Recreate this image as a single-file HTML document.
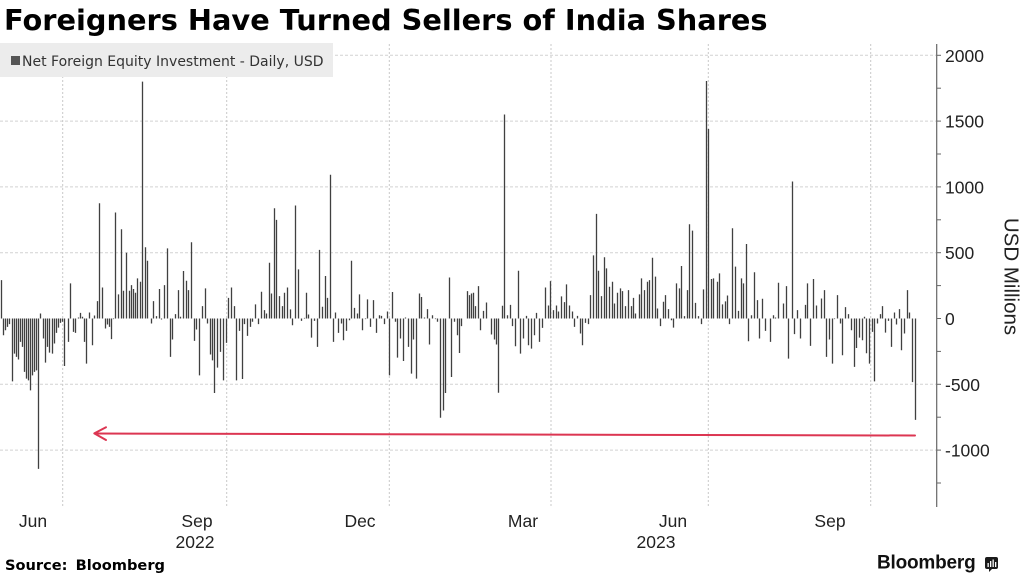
<!DOCTYPE html>
<html>
<head>
<meta charset="utf-8">
<style>
html,body{margin:0;padding:0;background:#fff;}
svg{display:block;}
</style>
</head>
<body>
<svg width="1024" height="576" viewBox="0 0 1024 576" xmlns="http://www.w3.org/2000/svg">
<rect x="0" y="0" width="1024" height="576" fill="#fff"/>

<!-- Title -->
<text x="4" y="30" font-family="'DejaVu Sans', 'Liberation Sans', sans-serif" font-weight="bold" font-size="28.8" fill="#000">Foreigners Have Turned Sellers of India Shares</text>

<!-- horizontal gridlines -->
<g stroke="#d2d2d2" stroke-width="1" stroke-dasharray="3,2">
  <line x1="0" x2="936" y1="55.3" y2="55.3"/>
  <line x1="0" x2="936" y1="121.1" y2="121.1"/>
  <line x1="0" x2="936" y1="186.9" y2="186.9"/>
  <line x1="0" x2="936" y1="252.7" y2="252.7"/>
  <line x1="0" x2="936" y1="384.3" y2="384.3"/>
  <line x1="0" x2="936" y1="450.1" y2="450.1"/>
</g>
<!-- vertical gridlines -->
<g stroke="#c8c8c8" stroke-width="1" stroke-dasharray="2,2">
  <line x1="62.7" x2="62.7" y1="44" y2="507"/>
  <line x1="226.7" x2="226.7" y1="44" y2="507"/>
  <line x1="389.3" x2="389.3" y1="44" y2="507"/>
  <line x1="551" x2="551" y1="44" y2="507"/>
  <line x1="708.3" x2="708.3" y1="44" y2="507"/>
  <line x1="870.7" x2="870.7" y1="44" y2="507"/>
</g>

<!-- Legend -->
<rect x="0" y="43" width="333" height="34" fill="#ececec"/>
<rect x="11" y="56" width="9" height="9" fill="#555"/>
<text x="22" y="66" font-family="'DejaVu Sans', 'Liberation Sans', sans-serif" font-size="14" fill="#333">Net Foreign Equity Investment - Daily, USD</text>

<!-- Bars -->
<path transform="translate(0.5,318.5) scale(1,-0.1316)" fill="none" stroke="#404040" stroke-width="1.3" d="
M1 0V292M3 0V-127M5 0V-89M7 0V-64M9 0V-43M12 0V-478M14 0V-267M16 0V-292M18 0V-312M20 0V-178M22 0V-216M24 0V-406M26 0V-457M28 0V-470M30 0V-546M32 0V-432M34 0V-406M36 0V-394M38 0V-1143M40 0V38M43 0V-152M45 0V-335M47 0V-216M49 0V-259M52 0V-267M54 0V-190M56 0V-109M58 0V-69M60 0V-33M62 0V-25M64 0V-361M68 0V-178M70 0V267M73 0V-102M75 0V-109M78 0V8M80 0V43M82 0V13M84 0V-178M86 0V-343M89 0V46M92 0V-203M94 0V23M97 0V132M99 0V876M102 0V236M105 0V-76M107 0V-46M109 0V-64M111 0V-157M113 0V-5M115 0V805M118 0V183M121 0V678M123 0V211M126 0V500M129 0V211M131 0V254M133 0V224M135 0V196M137 0V305M140 0V279M142 0V1800M145 0V541M147 0V439M151 0V-38M153 0V132M156 0V18M159 0V224
M161 0V-8M164 0V254M167 0V533M170 0V-292M172 0V-160M175 0V33M178 0V216M180 0V13M183 0V361M186 0V287M188 0V216M191 0V579M194 0V-170M196 0V-84M199 0V-432M202 0V94M205 0V229M207 0V-38M210 0V-274M212 0V-318M214 0V-566M217 0V-373M220 0V-254M223 0V-470M226 0V-185M228 0V157M231 0V236M234 0V94M236 0V-470M239 0V-94M242 0V-460M244 0V-43M247 0V-132M250 0V-64M252 0V-25M255 0V107M258 0V-43M261 0V203M264 0V64M266 0V38M269 0V424M271 0V190M274 0V838M276 0V749M279 0V170M282 0V94M284 0V196M287 0V236M290 0V69M292 0V-51M295 0V859M298 0V373M301 0V-18M304 0V5M306 0V196M308 0V30M311 0V-145M314 0V-18
M317 0V-216M319 0V521M322 0V89M325 0V323M327 0V157M330 0V1092M333 0V-178M335 0V46M338 0V-109M341 0V-38M343 0V-165M346 0V-94M349 0V-13M351 0V439M354 0V81M357 0V38M359 0V183M362 0V-89M365 0V-5M367 0V145M370 0V-64M373 0V140M376 0V-109M379 0V25M381 0V20M384 0V-43M387 0V53M389 0V-432M392 0V201M395 0V-25M397 0V-297M400 0V-152M403 0V-323M405 0V8M408 0V-216M411 0V-419M413 0V-160M416 0V-457M419 0V190M421 0V163M424 0V8M427 0V71M429 0V-198M432 0V25M435 0V-5M437 0V-25M440 0V-754M443 0V-699M445 0V-566M449 0V312M451 0V-445M454 0V-25M457 0V-127M459 0V-262M461 0V-58M467 0V208M469 0V178
M471 0V190M473 0V196M475 0V94M478 0V246M480 0V-89M483 0V58M486 0V122M491 0V-122M494 0V-160M496 0V-198M498 0V-564M502 0V97M504 0V1550M507 0V25M510 0V104M512 0V-58M515 0V-211M518 0V363M520 0V-267M523 0V-152M526 0V20M528 0V-203M531 0V-229M534 0V-127M536 0V43M539 0V-178M542 0V-71M545 0V236M548 0V99M550 0V284M553 0V64M556 0V99M558 0V53M561 0V168M564 0V124M566 0V259M569 0V99M572 0V53M574 0V-64M577 0V20M580 0V-114M582 0V-203M585 0V-33M588 0V-43M590 0V178M593 0V480M596 0V795M598 0V363M601 0V170M604 0V465M606 0V381M609 0V241M612 0V279M614 0V114M617 0V196M620 0V229M622 0V208M625 0V94
M628 0V216M631 0V94M633 0V157M635 0V38M639 0V183M641 0V305M644 0V216M647 0V279M649 0V292M652 0V462M655 0V318M657 0V76M660 0V-58M663 0V127M665 0V178M668 0V71M671 0V-13M673 0V-69M676 0V267M679 0V229M681 0V399M684 0V18M687 0V216M689 0V716M692 0V668M695 0V119M698 0V18M701 0V-43M703 0V221M706 0V1805M708 0V1440M711 0V300M713 0V305M717 0V279M719 0V343M722 0V107M725 0V130M727 0V175M729 0V-43M732 0V686M735 0V394M738 0V58M741 0V305M743 0V267M746 0V566M748 0V-173M751 0V25M754 0V351M757 0V140M759 0V-152M762 0V150M765 0V-94M770 0V-178M773 0V25M775 0V8M778 0V272
M783 0V114M786 0V246M788 0V-305M792 0V1041M794 0V-119M797 0V64M800 0V-152M805 0V104M807 0V267M810 0V-208M813 0V300M816 0V99M821 0V152M824 0V216M826 0V-292M829 0V-160M832 0V-343M834 0V-5M837 0V178M840 0V-38M842 0V-279M845 0V86M848 0V33M851 0V-89M854 0V-368M856 0V-224M859 0V-145M862 0V-165M864 0V13M866 0V-264M869 0V-343M872 0V-102M874 0V-478M877 0V-38M880 0V33M882 0V94M885 0V-107M888 0V-18M891 0V-216M894 0V46M896 0V-46M899 0V71M901 0V-241M904 0V-114M907 0V216M909 0V46M912 0V-483M915 0V-770"/>

<!-- Red arrow -->
<g stroke="#dc3652" stroke-width="2" fill="none" stroke-linecap="round" stroke-linejoin="round">
  <line x1="95" y1="433.5" x2="915" y2="435.5"/>
  <polyline points="106,427.3 94.3,433.4 106,440"/>
</g>

<!-- Y axis -->
<line x1="936.7" x2="936.7" y1="44" y2="507" stroke="#666" stroke-width="1.2"/>
<g stroke="#666" stroke-width="1">
  <line x1="937" x2="941" y1="55.3" y2="55.3"/>
  <line x1="937" x2="941" y1="88.2" y2="88.2"/>
  <line x1="937" x2="941" y1="121.1" y2="121.1"/>
  <line x1="937" x2="941" y1="154" y2="154"/>
  <line x1="937" x2="941" y1="186.9" y2="186.9"/>
  <line x1="937" x2="941" y1="219.8" y2="219.8"/>
  <line x1="937" x2="941" y1="252.7" y2="252.7"/>
  <line x1="937" x2="941" y1="285.6" y2="285.6"/>
  <line x1="937" x2="941" y1="318.5" y2="318.5"/>
  <line x1="937" x2="941" y1="351.4" y2="351.4"/>
  <line x1="937" x2="941" y1="384.3" y2="384.3"/>
  <line x1="937" x2="941" y1="417.2" y2="417.2"/>
  <line x1="937" x2="941" y1="450.1" y2="450.1"/>
  <line x1="937" x2="941" y1="483" y2="483"/>
</g>
<g font-family="'Liberation Sans', sans-serif" font-size="17.5" fill="#222">
  <text x="945" y="61.8">2000</text>
  <text x="945" y="127.6">1500</text>
  <text x="945" y="193.4">1000</text>
  <text x="945" y="259.2">500</text>
  <text x="945" y="325">0</text>
  <text x="945" y="390.8">-500</text>
  <text x="945" y="456.6">-1000</text>
</g>
<text transform="translate(1011,276.5) rotate(90)" text-anchor="middle" dominant-baseline="central" font-family="'Liberation Sans', sans-serif" font-size="20.5" fill="#222">USD Millions</text>

<!-- X labels -->
<g font-family="'Liberation Sans', sans-serif" font-size="17.5" fill="#222" text-anchor="middle">
  <text x="33" y="527">Jun</text>
  <text x="197" y="527">Sep</text>
  <text x="360" y="527">Dec</text>
  <text x="523" y="527">Mar</text>
  <text x="673" y="527">Jun</text>
  <text x="830" y="527">Sep</text>
  <text x="195" y="548">2022</text>
  <text x="656" y="548">2023</text>
</g>

<!-- Footer -->
<text x="5" y="570" font-family="'DejaVu Sans', 'Liberation Sans', sans-serif" font-weight="bold" font-size="14.6" fill="#000" word-spacing="3">Source: Bloomberg</text>
<text x="877" y="568.5" font-family="'Liberation Sans', sans-serif" font-weight="bold" font-size="19" fill="#111" letter-spacing="-0.2">Bloomberg</text>
<g>
  <rect x="985" y="557" width="13" height="12" rx="2" fill="#1a1a1a"/>
  <polygon points="989,568 993,568 989,572" fill="#1a1a1a"/>
  <rect x="987.5" y="563" width="1.3" height="4" fill="#fff"/>
  <rect x="990" y="561" width="1.3" height="6" fill="#fff"/>
  <rect x="992.5" y="559.5" width="1.3" height="7.5" fill="#fff"/>
  <rect x="995" y="562" width="1.3" height="5" fill="#fff"/>
</g>
</svg>
</body>
</html>
